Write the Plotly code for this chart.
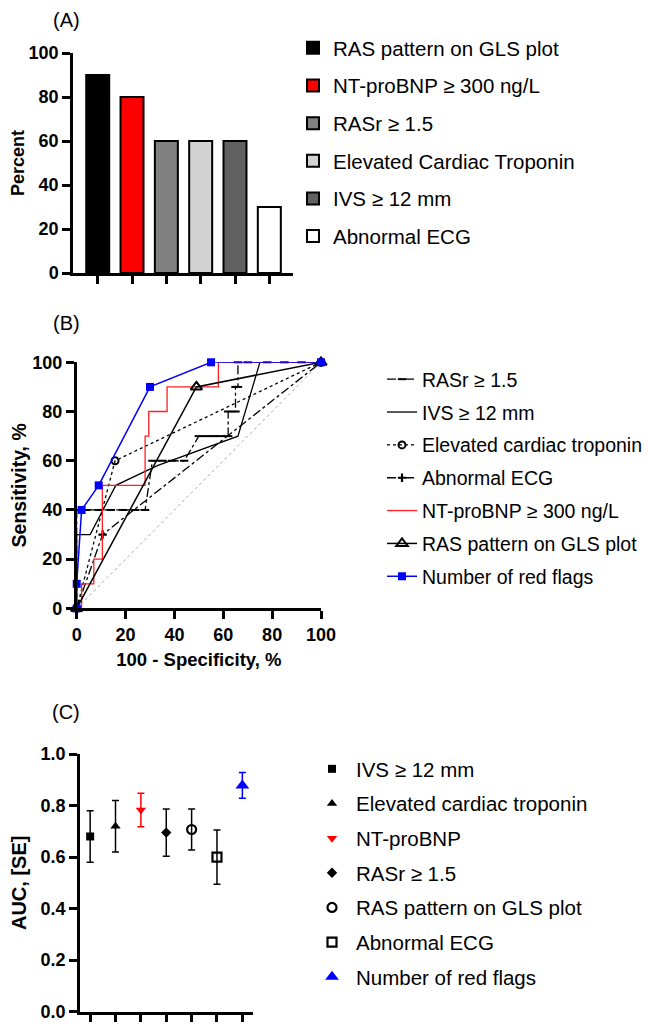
import plotly.graph_objects as go

# ---- data ----
# (A) share of patients with each red flag
bar_labels = ["RAS pattern on GLS plot", "NT-proBNP ≥ 300 ng/L", "RASr ≥ 1.5",
              "Elevated Cardiac Troponin", "IVS ≥ 12 mm", "Abnormal ECG"]
bar_values = [90, 80, 60, 60, 60, 30]
bar_colors = ["#000000", "#ff0000", "#808080", "#d3d3d3", "#606060", "#ffffff"]

# (B) ROC curves, 100 - specificity vs sensitivity
rasr_x = [0, 0, 4, 9, 14, 19, 24, 28, 31, 35, 39, 44, 50, 53, 56, 59, 62, 62, 65, 65, 66, 66, 70, 78, 85, 92, 100]
rasr_y = [0, 40, 40, 40, 40, 40, 40, 40, 60, 60, 60, 60, 70, 70, 70, 70, 70, 80, 80, 90, 90, 100, 100, 100, 100, 100, 100]
ivs_x = [0, 0, 5.5, 16, 33, 66, 75, 100]
ivs_y = [0, 30, 30, 50, 58, 70, 100, 100]
trop_x = [0, 15.7, 100]
trop_y = [0, 60, 100]
ecg_x = [0, 10.6, 100]
ecg_y = [0, 30, 100]
bnp_x = [0, 2, 2, 7, 7, 10.5, 10.5, 28, 28, 29.5, 29.5, 37, 37, 58, 58, 100]
bnp_y = [0, 0, 10, 10, 20, 20, 50, 50, 70, 70, 80, 80, 90, 90, 100, 100]
ras_x = [0, 49, 100]
ras_y = [0, 90, 100]
flags_x = [0, 0, 2, 9, 30, 55, 100]
flags_y = [0, 10, 40, 50, 90, 100, 100]
ref_x = [0, 100]
ref_y = [0, 100]

# (C) AUC with standard error
auc_labels = ["IVS ≥ 12 mm", "Elevated cardiac troponin", "NT-proBNP", "RASr ≥ 1.5",
              "RAS pattern on GLS plot", "Abnormal ECG", "Number of red flags"]
auc_values = [0.68, 0.72, 0.783, 0.695, 0.707, 0.60, 0.878]
auc_se = [0.10, 0.10, 0.065, 0.092, 0.08, 0.105, 0.05]

FONT = "Liberation Sans, Arial, sans-serif"
# page body has an 8px margin, so the figure starts 8px in from the window corner
OFF = 8
W, H = 642, 1017

fig = go.Figure()

# ---- (A) bars ----
for lab, val, col in zip(bar_labels, bar_values, bar_colors):
    fig.add_trace(go.Bar(
        x=[lab], y=[val], name=lab, width=0.67,
        marker=dict(color=col, line=dict(color="black", width=2)),
        xaxis="x", yaxis="y", legend="legend", legendgroup=lab,
    ))

# ---- (B) ROC ----
fig.add_trace(go.Scatter(x=ref_x, y=ref_y, mode="lines", showlegend=False,
                         line=dict(color="#aaaaaa", width=1, dash="dot"),
                         xaxis="x2", yaxis="y2", hoverinfo="skip"))

roc = [
    ("RASr ≥ 1.5", rasr_x, rasr_y, dict(color="black", width=1.3, dash="dashdot"),
     dict(symbol="line-ew-open", size=6, color="black", line=dict(width=2, color="black")), "lines+markers"),
    ("IVS ≥ 12 mm", ivs_x, ivs_y, dict(color="black", width=1.3), None, "lines"),
    ("Elevated cardiac troponin", trop_x, trop_y, dict(color="black", width=1.3, dash="dot"),
     dict(symbol="circle-open", size=7, color="black", line=dict(width=2, color="black")), "lines+markers"),
    ("Abnormal ECG", ecg_x, ecg_y, dict(color="black", width=1.3, dash="dashdot"),
     dict(symbol="cross-thin-open", size=6, color="black", line=dict(width=2.2, color="black")), "lines+markers"),
    ("NT-proBNP ≥ 300 ng/L", bnp_x, bnp_y, dict(color="#ff2020", width=1.3), None, "lines"),
    ("RAS pattern on GLS plot", ras_x, ras_y, dict(color="black", width=1.5),
     dict(symbol="triangle-up-open", size=10, color="black", line=dict(width=2, color="black")), "lines+markers"),
    ("Number of red flags", flags_x, flags_y, dict(color="#0000ff", width=1.5),
     dict(symbol="square", size=8, color="#0000ff"), "lines+markers"),
]
for name, xs, ys, ln, mk, mode in roc:
    tr = go.Scatter(x=xs, y=ys, name=name, mode=mode, line=ln, cliponaxis=False,
                    xaxis="x2", yaxis="y2", legend="legend2", legendgroup="b" + name)
    if mk is not None:
        tr.marker = mk
    fig.add_trace(tr)

# ---- (C) AUC ----
auc_style = [
    dict(symbol="square", size=8, color="black"),
    dict(symbol="triangle-up", size=9, color="black"),
    dict(symbol="triangle-down", size=9, color="#ff0000"),
    dict(symbol="diamond", size=8, color="black"),
    dict(symbol="circle-open", size=9, color="black", line=dict(width=2.2, color="black")),
    dict(symbol="square-open", size=9, color="black", line=dict(width=2.2, color="black")),
    dict(symbol="triangle-up", size=12, color="#0000ff"),
]
for lab, val, se, mk in zip(auc_labels, auc_values, auc_se, auc_style):
    fig.add_trace(go.Scatter(
        x=[lab], y=[val], name=lab, mode="markers", marker=mk, cliponaxis=False,
        error_y=dict(type="data", array=[se], color=mk["color"], thickness=1.5, width=3.5),
        xaxis="x3", yaxis="y3", legend="legend3", legendgroup="c" + lab,
    ))


# helpers: window pixel -> paper fraction
def fx(p):
    return (p - OFF) / W


def fy(p):
    return 1 - (p - OFF) / H


def px_x(a, b):
    return [fx(a), fx(b)]


def px_y(top, bottom):
    return [fy(bottom), fy(top)]


tickf = dict(family=FONT, size=18, color="black", weight="bold")
axis_common = dict(showline=True, linecolor="black", linewidth=2.5, ticks="outside",
                   ticklen=8, tickwidth=2.5, tickcolor="black", showgrid=False,
                   zeroline=False, tickfont=tickf, automargin=False,
                   ticklabeloverflow="allow")


def ttl(text, size, standoff=None):
    d = dict(text=text, font=dict(family=FONT, size=size, weight="bold", color="black"))
    if standoff is not None:
        d["standoff"] = standoff
    return d


fig.update_layout(
    template="none",
    width=W, height=H,
    margin=dict(l=0, r=0, t=0, b=0, pad=0),
    paper_bgcolor="white", plot_bgcolor="white",
    font=dict(family=FONT, color="black"),
    showlegend=True,
    xaxis=dict(domain=px_x(73, 293), anchor="y", type="category",
               categoryorder="array", categoryarray=bar_labels,
               range=[-0.72, 5.69], showticklabels=False, **axis_common),
    yaxis=dict(domain=px_y(53, 273), anchor="x", range=[0, 100], dtick=20,
               title=ttl("Percent", 18, 7), **axis_common),
    xaxis2=dict(domain=px_x(76.7, 321), anchor="y2", range=[0, 100], dtick=20,
                title=ttl("100 - Specificity, %", 18.5, 10), **axis_common),
    yaxis2=dict(domain=px_y(362.3, 608.4), anchor="x2", range=[0, 100], dtick=20,
                title=ttl("Sensitivity, %", 19.5, 16), **axis_common),
    xaxis3=dict(domain=px_x(80, 253), anchor="y3", type="category",
                categoryorder="array", categoryarray=auc_labels,
                range=[-0.4, 6.42], showticklabels=False, **axis_common),
    yaxis3=dict(domain=px_y(754, 1011.7), anchor="x3", range=[0, 1], dtick=0.2,
                tickformat=".1f", title=ttl("AUC, [SE]", 20, 14), **axis_common),
    legend=dict(x=fx(293), y=fy(28), xanchor="left", yanchor="top",
                font=dict(family=FONT, size=20.5), tracegroupgap=8,
                bgcolor="rgba(0,0,0,0)", traceorder="grouped"),
    legend2=dict(x=fx(382), y=fy(360), xanchor="left", yanchor="top",
                 font=dict(family=FONT, size=19.5), tracegroupgap=4.5,
                 bgcolor="rgba(0,0,0,0)", traceorder="grouped"),
    legend3=dict(x=fx(308), y=fy(749), xanchor="left", yanchor="top",
                 font=dict(family=FONT, size=20.5), tracegroupgap=5, itemwidth=38,
                 bgcolor="rgba(0,0,0,0)", traceorder="grouped"),
    annotations=[
        dict(text="(A)", x=fx(66), y=fy(20), xref="paper", yref="paper",
             xanchor="center", yanchor="middle",
             showarrow=False, font=dict(family=FONT, size=20)),
        dict(text="(B)", x=fx(66), y=fy(323), xref="paper", yref="paper",
             xanchor="center", yanchor="middle",
             showarrow=False, font=dict(family=FONT, size=20)),
        dict(text="(C)", x=fx(66), y=fy(712), xref="paper", yref="paper",
             xanchor="center", yanchor="middle",
             showarrow=False, font=dict(family=FONT, size=20)),
    ],
)

fig.write_html("out.html")
